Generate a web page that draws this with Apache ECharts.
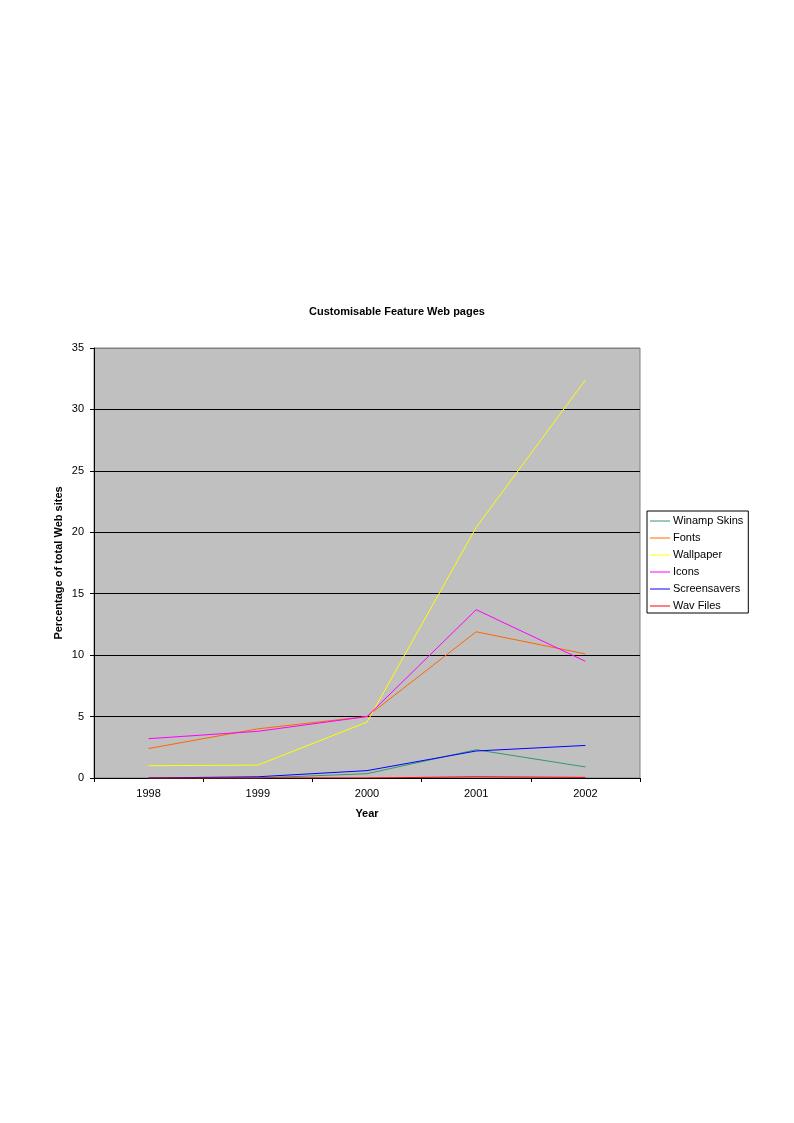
<!DOCTYPE html>
<html>
<head>
<meta charset="utf-8">
<script src="https://cdn.jsdelivr.net/npm/echarts@6/dist/echarts.min.js"></script>
<style>
html, body { margin: 0; padding: 0; background: #fff; }
#chart { width: 794px; height: 1123px; }
</style>
</head>
<body>
<div id="chart"></div>
<script>
var years = ['1998', '1999', '2000', '2001', '2002'];
var seriesNames = ['Winamp Skins', 'Fonts', 'Wallpaper', 'Icons', 'Screensavers', 'Wav Files'];
var colors = ['#339966', '#ff6600', '#ffff00', '#ff00ff', '#0000ff', '#ff0000'];

var winampSkins = [0, 0, 0.35, 2.3, 0.9];
var fonts = [2.4, 4.0, 5.0, 11.9, 10.1];
var wallpaper = [1.0, 1.05, 4.55, 20.4, 32.4];
var icons = [3.2, 3.8, 5.0, 13.7, 9.5];
var screensavers = [0, 0.1, 0.6, 2.2, 2.65];
var wavFiles = [0, 0, 0, 0.1, 0.05];

var allData = [winampSkins, fonts, wallpaper, icons, screensavers, wavFiles];
var font = "'Liberation Sans', Arial, sans-serif";

var option = {
    animation: false,
    color: colors,
    textStyle: { fontFamily: font },
    title: {
        text: 'Customisable Feature Web pages',
        left: 'center',
        top: 301,
        textStyle: { fontSize: 11, fontWeight: 'bold', color: '#000', fontFamily: font }
    },
    legend: {
        orient: 'vertical',
        left: 647,
        top: 511,
        width: 90,
        padding: [3, 5, 0, 3],
        borderColor: '#000',
        borderWidth: 1,
        backgroundColor: '#fff',
        icon: 'path://M0,0 L20,0 L20,1 L0,1 Z',
        itemWidth: 20,
        itemHeight: 14,
        itemGap: 3,
        textStyle: { fontSize: 11, color: '#000', fontFamily: font, lineHeight: 14, padding: [0, 0, 0, -2] },
        data: seriesNames
    },
    grid: {
        left: 94,
        right: 154,
        top: 348,
        bottom: 345,
        show: true,
        backgroundColor: '#c0c0c0',
        borderColor: '#808080',
        borderWidth: 1
    },
    xAxis: {
        type: 'category',
        data: years,
        boundaryGap: true,
        name: 'Year',
        nameLocation: 'middle',
        nameGap: 30,
        nameTextStyle: { fontSize: 11, fontWeight: 'bold', color: '#000', fontFamily: font },
        axisLine: { lineStyle: { color: '#000', width: 1 } },
        axisTick: { show: true, length: 4, lineStyle: { color: '#000' } },
        axisLabel: { fontSize: 11, color: '#000', margin: 10, fontFamily: font },
        splitLine: { show: false }
    },
    yAxis: {
        type: 'value',
        min: 0,
        max: 35,
        interval: 5,
        name: 'Percentage of total Web sites',
        nameLocation: 'middle',
        nameGap: 30,
        nameMoveOverlap: false,
        nameTextStyle: { fontSize: 11, fontWeight: 'bold', color: '#000', fontFamily: font },
        axisLine: { show: true, lineStyle: { color: '#000', width: 1 } },
        axisTick: { show: true, length: 4, lineStyle: { color: '#000' } },
        axisLabel: { fontSize: 11, color: '#000', margin: 10, fontFamily: font },
        splitLine: {
            show: true,
            lineStyle: { color: ['#000', '#000', '#000', '#000', '#000', '#000', '#000', '#808080'], width: 1 }
        }
    },
    series: seriesNames.map(function (name, i) {
        return {
            name: name,
            type: 'line',
            data: allData[i],
            symbol: 'none',
            lineStyle: { color: colors[i], width: 1 },
            itemStyle: { color: colors[i] }
        };
    })
};

var chart = echarts.init(document.getElementById('chart'));
chart.setOption(option);
</script>
</body>
</html>
